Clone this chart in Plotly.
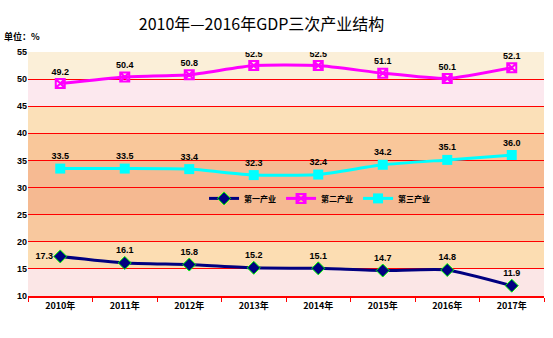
import plotly.graph_objects as go

years = ["2010年", "2011年", "2012年", "2013年", "2014年", "2015年", "2016年", "2017年"]
primary = [17.3, 16.1, 15.8, 15.2, 15.1, 14.7, 14.8, 11.9]
secondary = [49.2, 50.4, 50.8, 52.5, 52.5, 51.1, 50.1, 52.1]
tertiary = [33.5, 33.5, 33.4, 32.3, 32.4, 34.2, 35.1, 36.0]
y_ticks = [10, 15, 20, 25, 30, 35, 40, 45, 50, 55]

# background bands (low, high, colour)
bands = [
    (10, 15, "#FBE6E6"),
    (15, 20, "#FCDDB2"),
    (20, 25, "#F8C89E"),
    (25, 30, "#F5B991"),
    (30, 35, "#F6BA92"),
    (35, 40, "#F9C79A"),
    (40, 45, "#FBE0B8"),
    (45, 50, "#FCE8EE"),
    (50, 55, "#FBEFD8"),
]

label_font = dict(family="Liberation Sans, Arial", size=9, color="black")

fig = go.Figure()

fig.add_trace(go.Scatter(
    x=years, y=primary, name="<b>第一产业</b>", mode="lines+markers+text",
    line=dict(color="#000080", width=3, shape="spline", smoothing=0.5),
    marker=dict(symbol="diamond", size=10, color="#000080",
                line=dict(color="#00FF00", width=1)),
    text=[f"<b>{v:.1f}</b>" for v in primary],
    textposition=["middle left"] + ["top center"] * 7,
    textfont=label_font,
))
fig.add_trace(go.Scatter(
    x=years, y=secondary, name="<b>第二产业</b>", mode="lines+markers+text",
    line=dict(color="#FF00FF", width=3, shape="spline", smoothing=0.5),
    marker=dict(symbol="square-x-open", size=9, color="#FF00FF",
                line=dict(color="#FF00FF", width=2)),
    text=[f"<b>{v:.1f}</b>" for v in secondary],
    textposition="top center",
    textfont=label_font,
))
fig.add_trace(go.Scatter(
    x=years, y=tertiary, name="<b>第三产业</b>", mode="lines+markers+text",
    line=dict(color="#00FFFF", width=3, shape="spline", smoothing=0.5),
    marker=dict(symbol="square", size=10, color="#00FFFF"),
    text=[f"<b>{v:.1f}</b>" for v in tertiary],
    textposition="top center",
    textfont=label_font,
))

shapes = []
for lo, hi, col in bands:
    shapes.append(dict(type="rect", xref="paper", yref="y", x0=0, x1=1,
                       y0=lo, y1=hi, fillcolor=col, line=dict(width=0),
                       layer="below"))

fig.update_layout(
    width=553, height=338,
    margin=dict(l=28, r=9, t=52, b=42),
    paper_bgcolor="white", plot_bgcolor="white",
    shapes=shapes,
    title=dict(text="2010年—2016年GDP三次产业结构", x=0.473, xanchor="center",
               y=0.928, yanchor="middle",
               font=dict(family="Noto Sans CJK SC", size=16, color="black")),
    showlegend=True,
    legend=dict(orientation="h", x=0.565, y=0.40, xanchor="center", yanchor="middle",
                bgcolor="rgba(0,0,0,0)",
                font=dict(family="Noto Sans CJK SC", size=8, color="black"),
                itemwidth=30, tracegroupgap=0),
    xaxis=dict(type="category", showgrid=False, showline=True, linecolor="red",
               linewidth=2, ticks="outside", tickson="boundaries", tickcolor="red",
               ticklen=4, tickwidth=1, range=[-0.5, 7.5],
               tickvals=years, ticktext=[f"<b>{y}</b>" for y in years],
               tickfont=dict(family="Noto Sans CJK SC", size=9, color="black")),
    yaxis=dict(range=[10, 55], tickvals=y_ticks,
               ticktext=[f"<b>{t}</b>" for t in y_ticks],
               showgrid=True, gridcolor="red",
               gridwidth=1, zeroline=False, showline=False, ticks="",
               tickfont=dict(family="Liberation Sans, Arial", size=9, color="black")),
    annotations=[dict(text="<b>单位：%</b>", xref="paper", yref="paper", x=-0.05, y=1.062,
                      xanchor="left", yanchor="middle", showarrow=False,
                      font=dict(family="Noto Sans CJK SC", size=9, color="black"))],
)

fig.write_html("out.html")
